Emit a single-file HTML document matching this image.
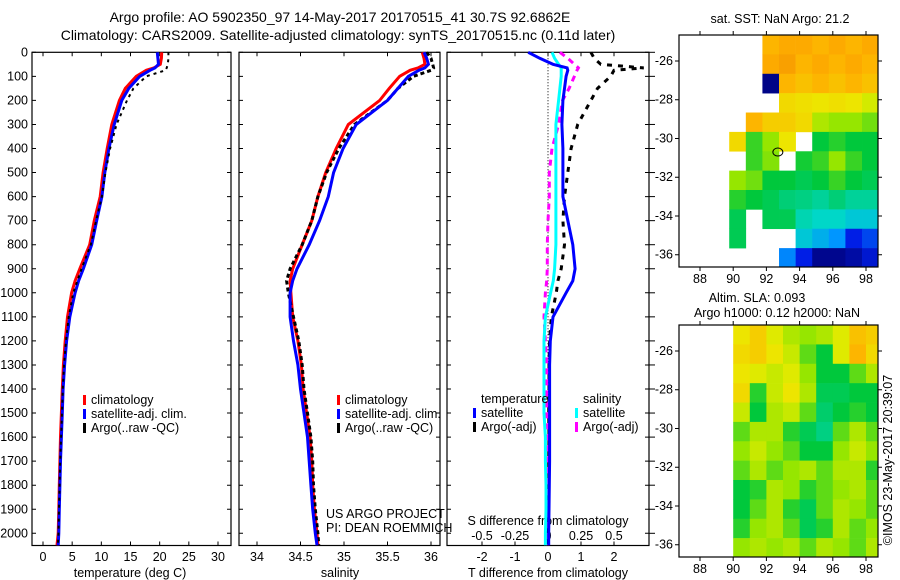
<!DOCTYPE html>
<html><head><meta charset="utf-8"><style>
html,body{margin:0;padding:0;background:#fff;}
svg{display:block;font-family:"Liberation Sans",sans-serif;}
text{font-size:12.5px;fill:#000;}
</style></head><body>
<svg id="fig" width="900" height="580" viewBox="0 0 900 580" xmlns="http://www.w3.org/2000/svg">
<text x="340" y="22" text-anchor="middle" style="font-size:14px">Argo profile: AO 5902350_97 14-May-2017 20170515_41 30.7S 92.6862E</text>
<text x="338" y="40" text-anchor="middle" style="font-size:14px">Climatology: CARS2009. Satellite-adjusted climatology: synTS_20170515.nc (0.11d later)</text>
<text x="780" y="23" text-anchor="middle">sat. SST: NaN Argo: 21.2</text>
<text x="757" y="302" text-anchor="middle">Altim. SLA: 0.093</text>
<text x="777" y="317" text-anchor="middle">Argo h1000: 0.12 h2000: NaN</text>
<text transform="translate(892,460) rotate(-90)" text-anchor="middle">©IMOS 23-May-2017 20:39:07</text>
<text x="326" y="518">US ARGO PROJECT</text>
<text x="326" y="532">PI: DEAN ROEMMICH</text>
<text x="548" y="525" text-anchor="middle">S difference from climatology</text>
<g id="g"></g>
</svg>
<script>
const NS="http://www.w3.org/2000/svg";
const depths=[0,25,50,65,75,100,150,200,300,400,500,600,700,800,900,950,1000,1100,1200,1300,1400,1500,1600,1700,1800,1900,2000,2050];
const tempClim=[20.35,20.3,20.1,19.0,17.7,16.0,14.1,13.1,11.8,11.0,10.3,9.8,8.8,8.0,6.3,5.5,4.9,4.2,3.8,3.5,3.3,3.15,3.0,2.9,2.8,2.7,2.6,2.4];
const tempSat=[19.6,19.7,19.8,19.2,18.35,16.6,14.7,13.5,12.2,11.3,10.6,10.1,9.2,8.35,6.9,6.1,5.5,4.6,4.05,3.7,3.45,3.3,3.15,3.0,2.9,2.8,2.7,2.6];
const tempArgo=[21.5,21.5,21.4,21.2,21.0,17.7,15.5,14.4,12.6,11.5,10.7,10.1,9.1,8.2,6.6,5.9,5.2,4.4,3.95,3.6,3.4,3.25,3.1,2.95,2.85,2.75,2.65,2.55];
const salClim=[35.9,35.92,35.93,35.85,35.76,35.64,35.52,35.41,35.05,34.91,34.79,34.7,34.63,34.52,34.41,34.38,34.39,34.41,34.47,34.51,34.53,34.57,34.61,34.63,34.64,34.66,34.69,34.7];
const salSat=[35.92,35.95,35.97,35.93,35.86,35.74,35.62,35.5,35.14,34.99,34.88,34.82,34.72,34.6,34.46,34.41,34.38,34.38,34.42,34.47,34.5,34.54,34.58,34.6,34.62,34.64,34.67,34.69];
const salArgo=[35.95,36.0,36.02,36.03,36.0,35.8,35.62,35.5,35.12,34.94,34.8,34.7,34.63,34.52,34.38,34.34,34.36,34.42,34.48,34.52,34.54,34.58,34.62,34.64,34.65,34.67,34.7,34.71];
const dTsat=[-0.6,-0.25,0.15,0.58,0.6,0.55,0.5,0.45,0.42,0.45,0.45,0.45,0.6,0.75,0.82,0.75,0.55,0.15,0.07,0.05,0.05,0.05,0.05,0.05,0.04,0.03,0.02,0.02];
const dTargo=[1.3,1.4,1.6,2.9,2.0,1.9,1.5,1.3,0.9,0.7,0.6,0.5,0.45,0.5,0.4,0.3,0.25,0.1,0.05,0.03,0.03,0.02,0.03,0.02,0.03,0.02,0.01,0.01];
const dSsat=[0.03,0.05,0.08,0.1,0.1,0.1,0.09,0.08,0.06,0.06,0.06,0.06,0.06,0.06,0.05,0.04,0.02,-0.02,-0.03,-0.03,-0.03,-0.03,-0.02,-0.02,-0.015,-0.015,-0.02,-0.02];
const dSargo=[0.09,0.15,0.2,0.23,0.22,0.2,0.16,0.11,0.08,0.03,0.01,0.01,0.0,-0.005,-0.005,-0.01,-0.02,-0.03,-0.02,-0.01,-0.01,-0.01,0.0,-0.005,0.0,0.0,0.0,0.0];
const depthTicks=[0,100,200,300,400,500,600,700,800,900,1000,1100,1200,1300,1400,1500,1600,1700,1800,1900,2000];
const tempTicks=[0,5,10,15,20,25,30];
const salTicks=[34,34.5,35,35.5,36];
const salTickLabels=["34","34.5","35","35.5","36"];
const dTTicks=[-2,-1,0,1,2];
const dSTicks=[-0.5,-0.25,0,0.25,0.5];
const lonTicks=[88,90,92,94,96,98];
const latTicks=[26,28,30,32,34,36];
// SST map (normalised values), rows lat 24.66+i, cols lon 86.76+j ; null = no data
const sstGrid=[
[null,null,null,null,null,0.74,0.76,0.76,0.74,0.76,0.74,0.76],
[null,null,null,null,null,0.76,0.78,0.74,0.76,0.74,0.76,0.74],
[null,null,null,null,null,0.02,0.74,0.72,0.74,0.72,0.74,0.72],
[null,null,null,null,null,null,0.68,0.67,0.66,0.67,0.66,0.63],
[null,null,null,null,0.74,0.7,0.7,0.68,0.6,0.58,0.58,0.56],
[null,null,null,0.68,0.53,0.58,0.66,null,0.5,0.52,0.5,0.5],
[null,null,null,null,0.53,0.57,null,0.51,0.53,0.58,0.53,0.5],
[null,null,null,0.58,0.56,0.5,0.5,0.48,0.5,0.53,0.5,0.48],
[null,null,null,0.52,0.5,0.48,0.45,0.44,0.42,0.45,0.42,0.42],
[null,null,null,0.48,null,0.48,0.48,0.4,0.38,0.38,0.36,0.36],
[null,null,null,0.48,null,null,null,0.36,0.33,0.3,0.15,0.2],
[null,null,null,null,null,null,0.28,0.15,0.03,0.03,0.06,0.12]];
// SLA map, rows lat 24.66+i, cols lon 90+j
const slaGrid=[
[0.66,0.7,0.64,0.6,0.58,0.6,0.64,0.72,0.7],
[0.68,0.7,0.66,0.62,0.55,0.5,0.64,0.74,0.68],
[0.66,0.64,0.62,0.64,0.58,0.5,0.5,0.55,0.6],
[0.68,0.52,0.62,0.66,0.6,0.48,0.48,0.5,0.5],
[0.62,0.5,0.6,0.62,0.55,0.46,0.5,0.52,0.5],
[0.55,0.6,0.6,0.52,0.48,0.44,0.55,0.6,0.55],
[0.58,0.62,0.58,0.55,0.5,0.5,0.58,0.62,0.58],
[0.55,0.6,0.55,0.58,0.6,0.55,0.6,0.6,0.52],
[0.5,0.52,0.6,0.58,0.52,0.55,0.58,0.6,0.55],
[0.5,0.55,0.6,0.52,0.48,0.55,0.6,0.58,0.55],
[0.52,0.58,0.6,0.55,0.48,0.52,0.6,0.55,0.58],
[0.58,0.6,0.58,0.6,0.55,0.6,0.58,0.55,0.6]];

const G=document.getElementById('g');
function mk(tag,attrs,parent){const e=document.createElementNS(NS,tag);for(const k in attrs)e.setAttribute(k,attrs[k]);(parent||G).appendChild(e);return e;}
const yTop=52.3,yBot=545.5,dMax=(yBot-yTop)/0.2405;
function yD(d){return yTop+d/dMax*(yBot-yTop);}
function lin(a0,a1,p0,p1){return v=>p0+(v-a0)/(a1-a0)*(p1-p0);}
const xT=lin(0,30,43,218), xS=lin(34,36,257,431), xDT=lin(0,2,548,614), xDS=lin(0,0.5,548,614);
const panels=[[32,231],[239,440],[447,649]];

function frame(p,name){
  const r=mk('rect',{x:p[0],y:yTop,width:p[1]-p[0],height:yBot-yTop,fill:'none',stroke:'#000','stroke-width':1.2});
  
  
  depthTicks.forEach(d=>{
    const t=mk('path',{d:`M${p[0]},${yD(d)}h4M${p[1]},${yD(d)}h-4`,stroke:'#000'});
    
    
  });
}
frame(panels[0],'temperature-panel-frame');
frame(panels[1],'salinity-panel-frame');
frame(panels[2],'difference-panel-frame');
depthTicks.forEach(d=>{
  const t=mk('text',{x:28,y:yD(d)+4,'text-anchor':'end'});t.textContent=d;
  
  
  const o=mk('path',{d:`M649,${yD(d)}h6`,stroke:'#000'});
  
  
});
function xticks(vals,labels,sc,name,ly){
  vals.forEach((v,i)=>{
    const x=sc(v);
    const t=mk('path',{d:`M${x},${yBot}v-4M${x},${yTop}v4`,stroke:'#000'});
    
    
    const l=mk('text',{x:x,y:ly,'text-anchor':'middle'});l.textContent=labels[i];
    
    
  });
}
xticks(tempTicks,tempTicks,xT,'temperature-axis',561);
xticks(salTicks,salTickLabels,xS,'salinity-axis',561);
xticks(dTTicks,dTTicks,xDT,'t-diff-axis',561);
dSTicks.forEach(v=>{
  const l=mk('text',{x:xDS(v),y:540,'text-anchor':'middle'});l.textContent=v;
  
  
});
[['temperature (deg C)',130,'temperature-axis-title'],['salinity',340,'salinity-axis-title'],['T difference from climatology',548,'t-diff-axis-title']].forEach(a=>{
  const l=mk('text',{x:a[1],y:577,'text-anchor':'middle'});l.textContent=a[0];
  
  
});
const zl=mk('line',{x1:548,x2:548,y1:yTop,y2:yBot,stroke:'#000','stroke-dasharray':'1,2'});



function profile(vals,sc,color,w,dash,name){
  const pts=vals.map((v,i)=>sc(v).toFixed(1)+','+yD(depths[i]).toFixed(1)).join(' ');
  const a={points:pts,fill:'none',stroke:color,'stroke-width':w};
  if(dash)a['stroke-dasharray']=dash;
  const e=mk('polyline',a);
  
  
}
profile(tempClim,xT,'#f00',3,null,'temperature-climatology-line');
profile(tempSat,xT,'#00f',3,null,'temperature-satellite-line');
profile(tempArgo,xT,'#000',2,'3,4','temperature-argo-line');
profile(salClim,xS,'#f00',3,null,'salinity-climatology-line');
profile(salArgo,xS,'#000',3,'4,3','salinity-argo-line');
profile(salSat,xS,'#00f',3,null,'salinity-satellite-line');
profile(dTargo,xDT,'#000',3,'5,6','t-diff-argo-line');
profile(dSargo,xDS,'#f0f',3,'6,5','s-diff-argo-line');
profile(dSsat,xDS,'#0ff',3,null,'s-diff-satellite-line');
profile(dTsat,xDT,'#00f',3,null,'t-diff-satellite-line');

function legend(x,y,color,label,name){
  const r=mk('rect',{x:x,y:y-9,width:3,height:10,fill:color});
  
  
  const t=mk('text',{x:x+8,y:y});t.textContent=label;
  
  
}
const legLabels=['climatology','satellite-adj. clim.','Argo(..raw -QC)'];
const legColors=['#f00','#00f','#000'];
legLabels.forEach((l,i)=>{legend(83,404+i*14,legColors[i],l,'temperature-legend-entry');legend(337,404+i*14,legColors[i],l,'salinity-legend-entry');});
const h1=mk('text',{x:481,y:403});h1.textContent='temperature';


const h2=mk('text',{x:583,y:403});h2.textContent='salinity';


legend(473,417,'#00f','satellite','diff-legend-t-satellite');
legend(473,431,'#000','Argo(-adj)','diff-legend-t-argo');
legend(575,417,'#0ff','satellite','diff-legend-s-satellite');
legend(575,431,'#f0f','Argo(-adj)','diff-legend-s-argo');

const cmapStops=[[0,[0,0,120]],[0.15,[0,30,230]],[0.3,[0,150,255]],[0.38,[0,215,200]],[0.5,[0,200,60]],[0.58,[150,230,0]],[0.65,[235,235,0]],[0.75,[255,175,0]],[0.88,[230,110,0]],[1,[200,60,0]]];
function cmap(v){
  for(let i=1;i<cmapStops.length;i++){
    const a=cmapStops[i-1],b=cmapStops[i];
    if(v<=b[0]){const t=(v-a[0])/(b[0]-a[0]);return 'rgb('+a[1].map((c,k)=>Math.round(c+(b[1][k]-c)*t)).join(',')+')';}
  }
  return 'rgb(200,60,0)';
}
function map(top,bot,grid,lon0,name){
  const L=679,R=878;
  const xL=lin(88,98,700,866), yL=lin(26,36,top+26*(bot-top)/232,top+219.7*(bot-top)/232);
  const lat0=24.66;
  grid.forEach((row,i)=>row.forEach((v,j)=>{
    if(v===null)return;
    const x0=Math.max(L,xL(lon0+j)),x1=Math.min(R,xL(lon0+j+1));
    const y0=Math.max(top,yL(lat0+i)),y1=Math.min(bot,yL(lat0+i+1));
    const c=mk('rect',{x:x0,y:y0,width:x1-x0+0.3,height:y1-y0+0.3,fill:cmap(v)});
    
    
  }));
  const f=mk('rect',{x:L,y:top,width:R-L,height:bot-top,fill:'none',stroke:'#000','stroke-width':1.2});
  
  
  lonTicks.forEach(v=>{
    const t=mk('path',{d:`M${xL(v)},${bot}v4M${xL(v)},${top}v-4`,stroke:'#000'});
    
    
    const l=mk('text',{x:xL(v),y:bot+16,'text-anchor':'middle'});l.textContent=v;
    
    
  });
  latTicks.forEach(v=>{
    const t=mk('path',{d:`M${L},${yL(v)}h-4M${R},${yL(v)}h4`,stroke:'#000'});
    
    
    const l=mk('text',{x:673,y:yL(v)+4,'text-anchor':'end'});l.textContent='-'+v;
    
    
  });
  return [xL,yL];
}
const sc=map(35,267,sstGrid,86.76,'sst-map');
map(325,557,slaGrid,90,'sla-map');
const mkr=mk('ellipse',{cx:sc[0](92.69),cy:sc[1](30.7),rx:5,ry:4,fill:'none',stroke:'#000'});


</script>
</body></html>
